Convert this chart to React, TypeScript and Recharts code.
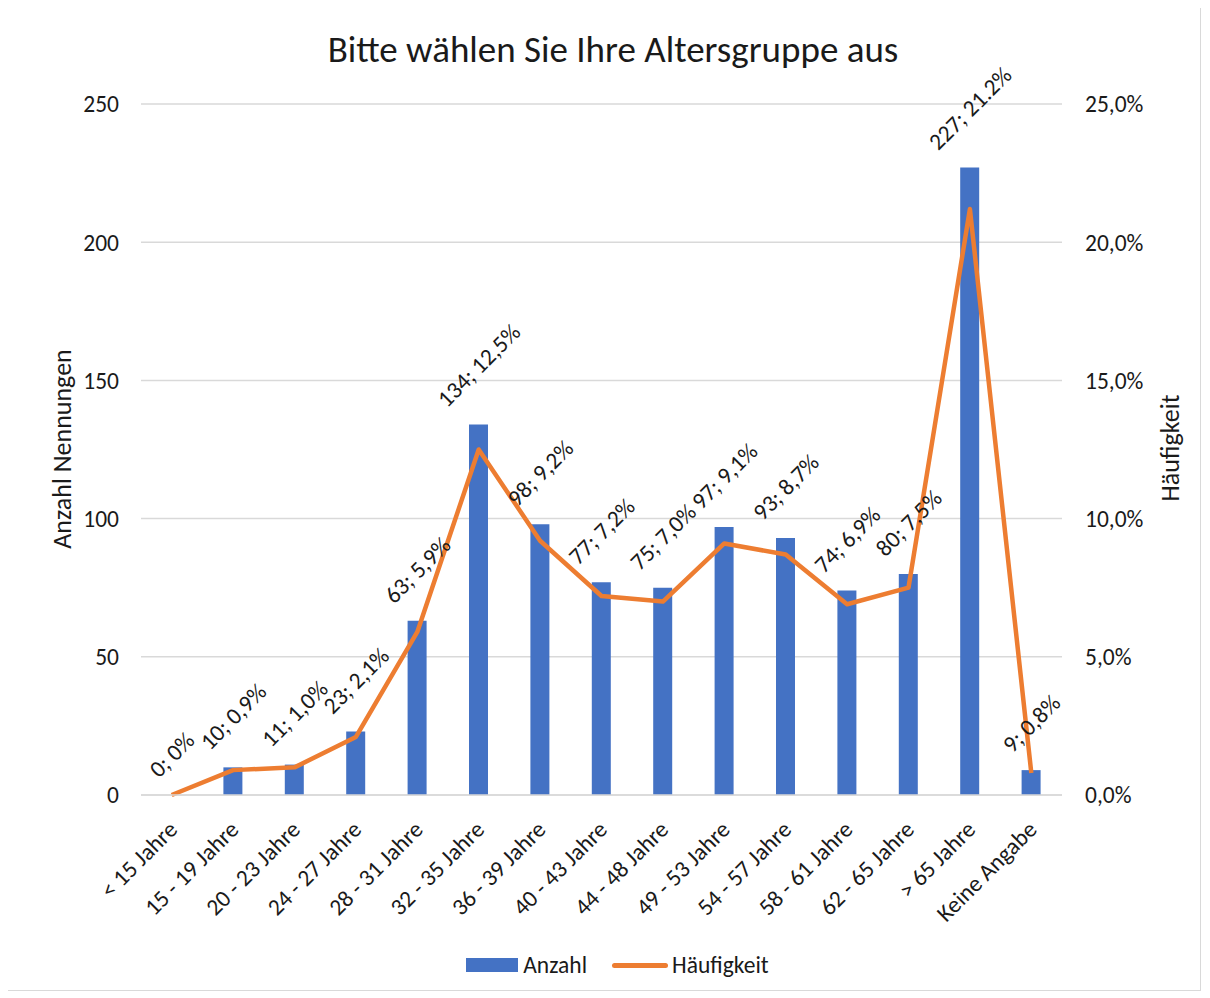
import {
  Bar,
  CartesianGrid,
  ComposedChart,
  LabelList,
  Legend,
  Line,
  XAxis,
  YAxis
} from "recharts";

const categories = [
  "< 15 Jahre",
  "15 - 19 Jahre",
  "20 - 23 Jahre",
  "24 - 27 Jahre",
  "28 - 31 Jahre",
  "32 - 35 Jahre",
  "36 - 39 Jahre",
  "40 - 43 Jahre",
  "44 - 48 Jahre",
  "49 - 53 Jahre",
  "54 - 57 Jahre",
  "58 - 61 Jahre",
  "62 - 65 Jahre",
  "> 65 Jahre",
  "Keine Angabe"
];

const anzahl = [0, 10, 11, 23, 63, 134, 98, 77, 75, 97, 93, 74, 80, 227, 9];

const haeufigkeit = [0, 0.9, 1.0, 2.1, 5.9, 12.5, 9.2, 7.2, 7.0, 9.1, 8.7, 6.9, 7.5, 21.2, 0.8];

// shown as in the source, incl. the one label with a dot
const haeufigkeitLabels = [
  "0%", "0,9%", "1,0%", "2,1%", "5,9%", "12,5%", "9,2%", "7,2%",
  "7,0%", "9,1%", "8,7%", "6,9%", "7,5%", "21.2%", "0,8%"
];

const leftTicks = [0, 50, 100, 150, 200, 250];
const rightTicks = [0, 5, 10, 15, 20, 25];

const data = categories.map((name, i) => ({
  name,
  anzahl: anzahl[i],
  haeufigkeit: haeufigkeit[i]
}));

const FONT = "Carlito, Calibri, Lato, 'Open Sans', sans-serif";
const FS = 23.5;
const BLUE = "#4472C4";
const ORANGE = "#ED7D31";
const GRID = "#d9d9d9";
const TEXT = "#1a1a1a";

let measureCtx: CanvasRenderingContext2D | null = null;
function textWidth(text: string, size: number) {
  if (!measureCtx) {
    measureCtx = document.createElement("canvas").getContext("2d");
  }
  if (!measureCtx) return text.length * size * 0.5;
  measureCtx.font = `${size}px ${FONT}`;
  return measureCtx.measureText(text).width;
}

function formatPercent(value: number) {
  return `${value.toFixed(1).replace(".", ",")}%`;
}

function CategoryTick(props: any) {
  const { x, y, payload } = props;
  const ax = x + 1;
  const ay = y + 22;
  return (
    <text
      x={ax}
      y={ay}
      dy="0.36em"
      textAnchor="end"
      transform={`rotate(-45 ${ax} ${ay})`}
      fontSize={FS}
      fontFamily={FONT}
      fill={TEXT}
    >
      {payload.value}
    </text>
  );
}

// sits on the (invisible) count points, so every category gets its label, zero included
function ValueLabel(props: any) {
  const { x, y, value } = props;
  const i = categories.indexOf(value);
  if (i < 0) return null;
  const text = `${anzahl[i]}; ${haeufigkeitLabels[i]}`;
  const len = textWidth(text, FS);
  const cx = Number(x);
  const cy = Number(y) - 22 - len * 0.354;
  return (
    <text
      x={cx}
      y={cy}
      dy="0.35em"
      textAnchor="middle"
      transform={`rotate(-45 ${cx} ${cy})`}
      fontSize={FS}
      fontFamily={FONT}
      fill={TEXT}
    >
      {text}
    </text>
  );
}

function LegendContent() {
  return (
    <div
      style={{
        display: "flex",
        justifyContent: "center",
        alignItems: "center",
        height: 30,
        paddingLeft: 27,
        fontSize: FS,
        fontFamily: FONT,
        color: TEXT
      }}
    >
      <span style={{ width: 52, height: 14, background: BLUE, marginRight: 5 }} />
      <span>Anzahl</span>
      <span
        style={{ width: 56, height: 5, borderRadius: 3, background: ORANGE, marginLeft: 25, marginRight: 4 }}
      />
      <span>Häufigkeit</span>
    </div>
  );
}

function AxisTitle({ text, left, top }: { text: string; left: number; top: number }) {
  return (
    <div
      style={{
        position: "absolute",
        left,
        top,
        transform: "translate(-50%, -50%) rotate(-90deg)",
        whiteSpace: "nowrap",
        fontSize: 26,
        fontFamily: FONT,
        color: TEXT
      }}
    >
      {text}
    </div>
  );
}

export default function App() {
  return (
    <div
      style={{
        position: "relative",
        width: 1192,
        height: 984,
        marginLeft: -1,
        marginTop: -3,
        border: `1px solid ${GRID}`,
        background: "#fff",
        fontFamily: FONT
      }}
    >
      <div
        style={{
          position: "absolute",
          left: 0,
          right: 0,
          top: 24,
          paddingLeft: 18,
          textAlign: "center",
          fontSize: 37,
          lineHeight: "40px",
          color: TEXT
        }}
      >
        Bitte wählen Sie Ihre Altersgruppe aus
      </div>
      <AxisTitle text="Anzahl Nennungen" left={54} top={443} />
      <AxisTitle text="Häufigkeit" left={1162} top={442} />
      <ComposedChart
        width={1192}
        height={984}
        data={data}
        margin={{ top: 98, right: 0, bottom: 10, left: 0 }}
      >
        <CartesianGrid yAxisId="left" vertical={false} stroke={GRID} strokeWidth={1.5} />
        <XAxis
          dataKey="name"
          interval={0}
          height={155}
          tick={<CategoryTick />}
          tickLine={false}
          axisLine={{ stroke: GRID, strokeWidth: 1.5 }}
        />
        <YAxis
          yAxisId="left"
          width={133}
          domain={[0, 250]}
          ticks={leftTicks}
          tickLine={false}
          axisLine={false}
          tickSize={0}
          tickMargin={22}
          tick={{ fontSize: FS, fontFamily: FONT, fill: TEXT }}
        />
        <YAxis
          yAxisId="right"
          orientation="right"
          width={138}
          domain={[0, 25]}
          ticks={rightTicks}
          tickFormatter={formatPercent}
          tickLine={false}
          axisLine={false}
          tickSize={0}
          tickMargin={23}
          tick={{ fontSize: FS, fontFamily: FONT, fill: TEXT }}
        />
        <Legend verticalAlign="bottom" content={<LegendContent />} />
        <Bar yAxisId="left" dataKey="anzahl" name="Anzahl" fill={BLUE} barSize={19} isAnimationActive={false} />
        <Line
          yAxisId="right"
          type="linear"
          dataKey="haeufigkeit"
          name="Häufigkeit"
          stroke={ORANGE}
          strokeWidth={4.5}
          strokeLinejoin="round"
          dot={false}
          isAnimationActive={false}
        />
        <Line
          yAxisId="left"
          type="linear"
          dataKey="anzahl"
          stroke="none"
          dot={false}
          activeDot={false}
          legendType="none"
          isAnimationActive={false}
        >
          <LabelList dataKey="name" content={<ValueLabel />} />
        </Line>
      </ComposedChart>
    </div>
  );
}
